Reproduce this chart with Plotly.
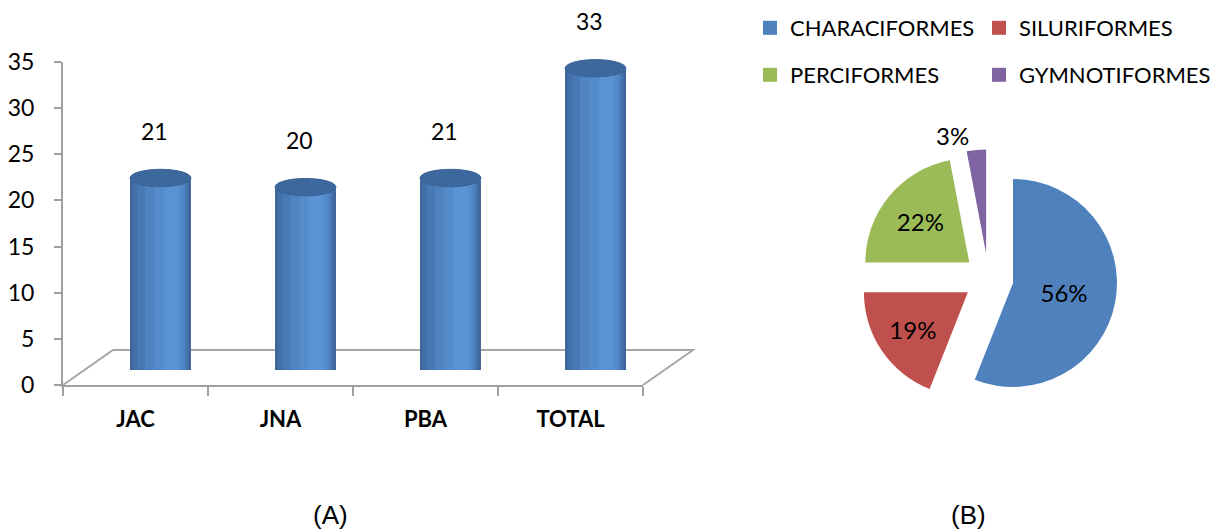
import plotly.graph_objects as go

# ---------------- data ----------------
sites = ["JAC", "JNA", "PBA", "TOTAL"]
species_counts = [21, 20, 21, 33]
y_ticks = [0, 5, 10, 15, 20, 25, 30, 35]

orders = ["CHARACIFORMES", "SILURIFORMES", "PERCIFORMES", "GYMNOTIFORMES"]
order_pct = [56, 19, 22, 3]
order_colors = ["#4f81bd", "#c0504d", "#9bbb59", "#8064a2"]

panel_labels = ["(A)", "(B)"]

# ---------------- helpers ----------------
FW, FH = 1221, 532
def fx(px):
    return px / FW
def fy(py):
    return 1 - py / FH

FONT = "Lato"
fig = go.Figure()

# cylinder bodies: overlaid bars emulating a horizontal gradient
BW = 0.42
layers = [(0.00, 1.00, "#3b6296"), (0.04, 0.97, "#426fa7"), (0.12, 0.93, "#4979b5"),
          (0.25, 0.90, "#4f83c1"), (0.40, 0.86, "#548bca"), (0.55, 0.80, "#5a93d3")]
for a, b, col in layers:
    fig.add_trace(go.Bar(
        x=sites, y=species_counts, xaxis="x2", yaxis="y2",
        width=BW * (b - a), offset=-BW / 2 + BW * a,
        marker=dict(color=col, line=dict(width=0)),
        showlegend=False, hoverinfo="skip"))

shapes = []
CAP = 0.95
for i, v in enumerate(species_counts):
    shapes.append(dict(type="circle", xref="x2", yref="y2", layer="below",
                       x0=i - BW / 2, x1=i + BW / 2, y0=-0.75, y1=0.75,
                       fillcolor="#4a7ab6", line=dict(width=0)))
    shapes.append(dict(type="circle", xref="x2", yref="y2", layer="above",
                       x0=i - BW / 2, x1=i + BW / 2, y0=v - CAP, y1=v + CAP,
                       fillcolor="#3d689e", line=dict(color="#3a6296", width=1)))

# 3-D floor outline
shapes.append(dict(type="path", xref="paper", yref="paper", layer="below",
                   path=f"M{fx(63)},{fy(385)} L{fx(113)},{fy(350)} L{fx(693)},{fy(350)} L{fx(643)},{fy(385)}",
                   line=dict(color="#a6a6a6", width=2)))

# invisible front trace so the front axes render
fig.add_trace(go.Scatter(x=sites, y=[None] * len(sites), xaxis="x", yaxis="y",
                         mode="markers", showlegend=False, hoverinfo="skip"))

annotations = []
for c, v in zip(sites, species_counts):
    annotations.append(dict(x=c, y=v, xref="x2", yref="y2", text=str(v), showarrow=False,
                            yanchor="bottom", yshift=31, xshift=-6,
                            font=dict(size=23, color="black", family=FONT)))

# pie
PULL = 0.24
fig.add_trace(go.Pie(
    labels=orders, values=order_pct, sort=False, direction="clockwise", rotation=0,
    marker=dict(colors=order_colors, line=dict(width=0)),
    pull=[PULL] * len(orders), textinfo="percent",
    textposition=["inside", "inside", "inside", "outside"],
    insidetextorientation="horizontal",
    textfont=dict(size=24, color="black", family=FONT),
    domain=dict(x=[fx(859.6), fx(1117.4)], y=[fy(407.2), fy(149.4)]),
    showlegend=False, hoverinfo="label+percent"))

# legend entries (2 x 2)
leg_pos = [(750, 28), (979, 28), (750, 75), (979, 75)]
leg_names = ["legend", "legend2", "legend3", "legend4"]
for name, col, ln in zip(orders, order_colors, leg_names):
    fig.add_trace(go.Scatter(x=[None], y=[None], xaxis="x3", yaxis="y3", mode="markers",
                             name=name, legend=ln,
                             marker=dict(symbol="square", size=14, color=col, line=dict(width=0))))

legend_layout = {}
for ln, (px, py) in zip(leg_names, leg_pos):
    legend_layout[ln] = dict(x=fx(px), y=fy(py), xanchor="left", yanchor="middle",
                             bgcolor="rgba(0,0,0,0)",
                             font=dict(size=22, color="black", family=FONT))

for txt, px in zip(panel_labels, [330, 968]):
    annotations.append(dict(x=fx(px), y=fy(515), xref="paper", yref="paper", text=txt,
                            showarrow=False, xanchor="center", yanchor="middle",
                            font=dict(size=26, color="black", family="Liberation Sans")))

axis_grey = "#a0a0a0"
fig.update_layout(
    width=FW, height=FH,
    margin=dict(l=0, r=0, t=0, b=0, autoexpand=False),
    paper_bgcolor="white", plot_bgcolor="rgba(0,0,0,0)",
    font=dict(family=FONT, color="black"),
    barmode="overlay",
    xaxis=dict(domain=[fx(63), fx(643)], type="category", range=[-0.5, 3.5],
               categoryorder="array", categoryarray=sites,
               showline=True, linecolor=axis_grey, linewidth=2,
               ticks="outside", tickson="boundaries", ticklen=9, tickcolor=axis_grey, tickwidth=2,
               tickfont=dict(size=22, weight="bold", family=FONT, color="black"),
               ticklabelstandoff=14, showgrid=False, zeroline=False, anchor="y",
               automargin=False, fixedrange=True),
    yaxis=dict(domain=[fy(385), fy(62)], range=[0, 35], tickvals=y_ticks,
               showline=True, linecolor=axis_grey, linewidth=2,
               ticks="outside", ticklen=7, tickcolor=axis_grey, tickwidth=2,
               tickfont=dict(size=23, family=FONT, color="black"),
               ticklabelstandoff=15, showgrid=False, zeroline=False, anchor="x",
               automargin=False, fixedrange=True),
    xaxis2=dict(domain=[fx(88), fx(668)], type="category", range=[-0.5, 3.5],
                categoryorder="array", categoryarray=sites,
                visible=False, anchor="y2", automargin=False, fixedrange=True),
    yaxis2=dict(domain=[fy(370), fy(50)], range=[0, 35], visible=False, anchor="x2",
                automargin=False, fixedrange=True),
    xaxis3=dict(domain=[0, 0.01], visible=False, anchor="y3", automargin=False),
    yaxis3=dict(domain=[0, 0.01], visible=False, anchor="x3", automargin=False),
    shapes=shapes, annotations=annotations,
    **legend_layout,
)

fig.write_html("out.html")
